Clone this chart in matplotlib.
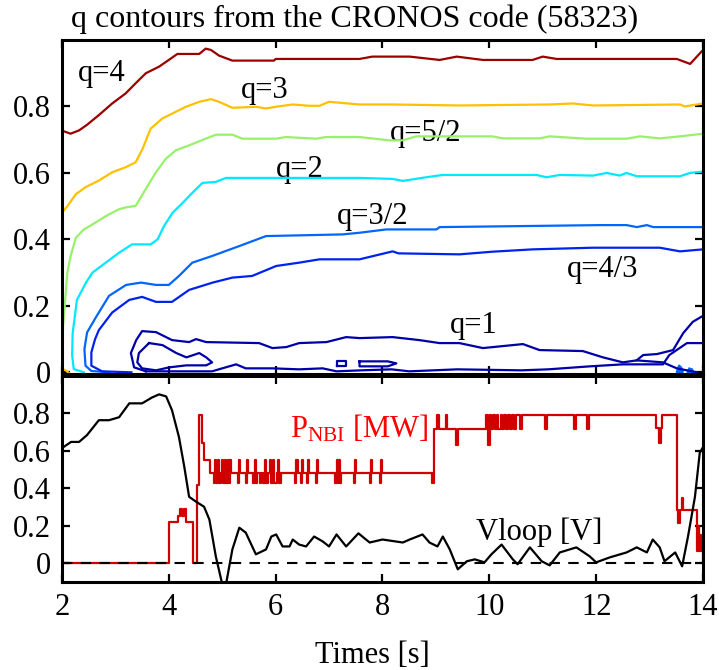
import matplotlib
matplotlib.use("Agg")
import matplotlib.pyplot as plt

plt.rcParams['font.family'] = ['Liberation Serif', 'DejaVu Serif']
plt.rcParams['mathtext.fontset'] = 'custom'
plt.rcParams['mathtext.rm'] = 'Liberation Serif'

# ---- q contours (time [s], rho) ----
q4_t = [1.99, 2.16, 2.32, 2.47, 2.69, 2.94, 3.19, 3.38, 3.57, 3.82, 4.0, 4.16, 4.57, 4.69, 4.79,
        4.94, 5.19, 5.97, 6.0, 7.57, 7.81, 8.51, 9.07, 9.39, 9.88, 10.81, 11.0, 11.26, 13.51, 13.76, 14.0]
q4_r = [0.728, 0.718, 0.728, 0.745, 0.774, 0.809, 0.839, 0.870, 0.900, 0.920, 0.940, 0.958, 0.958, 0.974, 0.970,
        0.953, 0.938, 0.938, 0.943, 0.943, 0.950, 0.950, 0.940, 0.950, 0.940, 0.940, 0.950, 0.943, 0.943, 0.928, 0.970]

q3_t = [1.99, 2.0, 2.1, 2.26, 2.44, 2.69, 2.94, 3.19, 3.38, 3.51, 3.66, 3.88, 4.07, 4.32, 4.57, 4.79,
        4.94, 5.19, 5.63, 5.82, 6.0, 6.32, 6.63, 6.82, 7.0, 7.57, 8.19, 9.44, 11.13, 11.56, 11.94, 13.57, 13.66, 14.0]
q3_r = [0.42, 0.48, 0.50, 0.536, 0.557, 0.577, 0.602, 0.617, 0.632, 0.673, 0.733, 0.764, 0.779, 0.799, 0.814, 0.822,
        0.814, 0.796, 0.799, 0.794, 0.799, 0.806, 0.802, 0.802, 0.814, 0.806, 0.806, 0.803, 0.806, 0.809, 0.803, 0.806, 0.800, 0.809]
q3_corner_t = [1.99, 2.08, 2.13]
q3_corner_r = [0.012, 0.005, -0.002]

q52_t = [2.0, 2.01, 2.06, 2.1, 2.16, 2.26, 2.41, 2.57, 2.82, 3.07, 3.19, 3.38, 3.57, 3.76, 3.94, 4.13, 4.38,
         4.69, 4.88, 5.19, 5.38, 6.0, 6.19, 6.76, 6.94, 7.57, 8.13, 8.38, 8.63, 10.06, 10.25, 10.94, 11.13,
         11.82, 12.57, 12.82, 13.19, 13.57, 14.0]
q52_r = [0.0, 0.117, 0.218, 0.299, 0.349, 0.405, 0.430, 0.445, 0.470, 0.491, 0.496, 0.501, 0.552, 0.602, 0.642, 0.668, 0.683,
         0.703, 0.715, 0.715, 0.703, 0.703, 0.708, 0.703, 0.708, 0.708, 0.698, 0.698, 0.710, 0.710, 0.704, 0.704, 0.710,
         0.703, 0.703, 0.710, 0.704, 0.710, 0.718]

q2_t = [2.41, 2.22, 2.19, 2.2, 2.28, 2.45, 2.57, 2.82, 3.07, 3.31, 3.66, 3.79, 3.91, 4.07, 4.26, 4.44, 4.63,
        4.88, 5.07, 7.57, 8.19, 8.38, 8.82, 9.13, 10.88, 11.07, 11.32, 11.94, 12.2, 12.44, 12.57, 12.76, 13.57, 13.76, 14.0]
q2_r = [0.0, 0.01, 0.052, 0.118, 0.218, 0.27, 0.30, 0.33, 0.36, 0.385, 0.385, 0.40, 0.44, 0.48, 0.51, 0.54, 0.57,
        0.573, 0.585, 0.585, 0.582, 0.576, 0.587, 0.594, 0.594, 0.587, 0.594, 0.592, 0.600, 0.592, 0.600, 0.590, 0.590, 0.600, 0.604]

q32_t = [2.9, 2.55, 2.44, 2.42, 2.47, 2.64, 2.88, 3.2, 3.48, 3.76, 4.0, 4.19, 4.44, 4.81, 5.32, 5.82, 7.25, 7.57,
         8.07, 9.01, 9.07, 12.07, 12.57, 12.76, 12.95, 13.07, 14.0]
q32_r = [0.0, 0.004, 0.02, 0.07, 0.12, 0.167, 0.23, 0.263, 0.27, 0.263, 0.263, 0.29, 0.33, 0.35, 0.38, 0.41, 0.415, 0.42,
         0.43, 0.43, 0.437, 0.443, 0.443, 0.437, 0.443, 0.437, 0.437]

q43_t = [3.3, 2.75, 2.55, 2.55, 2.62, 2.69, 2.94, 3.26, 3.5, 3.76, 4.06, 4.38, 4.82, 5.19, 5.56, 6.01, 6.44, 6.82,
         7.57, 8.19, 8.3, 9.44, 10.06, 10.81, 11.94, 13.19, 13.57, 14.0]
q43_r = [0.0, 0.003, 0.02, 0.06, 0.10, 0.127, 0.18, 0.218, 0.227, 0.212, 0.212, 0.248, 0.27, 0.285, 0.29, 0.32, 0.33, 0.34,
         0.34, 0.364, 0.358, 0.355, 0.363, 0.37, 0.375, 0.375, 0.364, 0.37]

# q=1 : several pieces
q1a_t = [3.57, 3.35, 3.29, 3.39, 3.5, 3.76, 4.06, 4.38, 4.51, 4.7, 5.69, 5.94, 6.2, 6.44, 6.95, 7.32, 7.57, 8.19,
         8.69, 9.07, 9.44, 9.88, 10.63, 10.94, 11.75, 12.13, 12.5, 12.76, 12.88, 13.14, 13.44, 13.63, 13.81, 14.0]
q1a_r = [0.003, 0.015, 0.058, 0.097, 0.124, 0.121, 0.097, 0.091, 0.10, 0.091, 0.088, 0.073, 0.076, 0.088, 0.091, 0.106, 0.103, 0.106,
         0.097, 0.088, 0.088, 0.073, 0.085, 0.067, 0.064, 0.045, 0.030, 0.036, 0.052, 0.055, 0.067, 0.118, 0.152, 0.170]
q1b_t = [3.57, 4.81, 5.0, 5.26, 5.44, 5.94, 6.44, 6.88, 7.14, 7.6, 8.17, 8.5, 9.4, 10.6, 11.1, 11.88, 12.5, 13.25, 13.37, 13.7, 14.0]
q1b_r = [0.003, 0.003, 0.012, 0.024, 0.012, 0.012, 0.009, 0.012, 0.003, 0.006, 0.009, 0.003, 0.009, 0.006, 0.009, 0.018, 0.024, 0.024, 0.052, 0.088, 0.088]
q1c_t = [12.76, 13.25, 13.51, 13.89]
q1c_r = [0.036, 0.030, 0.012, 0.0]
q1d_t = [3.63, 3.88, 4.14, 4.33, 4.57, 4.70, 4.81, 4.70, 4.33, 4.01, 3.76, 3.50, 3.41, 3.44, 3.63]
q1d_r = [0.088, 0.082, 0.058, 0.045, 0.058, 0.045, 0.030, 0.021, 0.021, 0.015, 0.006, 0.012, 0.030, 0.058, 0.088]
q1e_t = [7.14, 7.32, 7.32, 7.14, 7.14]
q1e_r = [0.018, 0.018, 0.033, 0.033, 0.018]
q1f_t = [7.57, 8.1, 8.26, 8.1, 7.57, 7.57]
q1f_r = [0.033, 0.033, 0.027, 0.018, 0.018, 0.033]
blob1_t = [13.5, 13.55, 13.6, 13.63]
blob1_r = [0.0, 0.022, 0.015, 0.0]
blob2_t = [13.7, 13.74, 13.8, 13.83]
blob2_r = [0.0, 0.013, 0.01, 0.0]

# ---- bottom panel ----
vloop_t = [2.0, 2.17, 2.32, 2.47, 2.69, 2.88, 3.07, 3.26, 3.5, 3.69, 3.82, 3.95, 4.06, 4.19, 4.29, 4.38, 4.51, 4.66,
           4.76, 4.88, 5.04, 5.19, 5.32, 5.44, 5.63, 5.82, 5.92, 6.01, 6.13, 6.26, 6.32, 6.44, 6.57, 6.72, 6.88, 7.0,
           7.14, 7.32, 7.55, 7.76, 8.0, 8.38, 8.51, 8.75, 8.88, 9.03, 9.13, 9.26, 9.41, 9.58, 9.73, 9.91, 10.04, 10.23,
           10.44, 10.53, 10.76, 10.98, 11.13, 11.32, 11.63, 11.88, 12.0, 12.26, 12.57, 12.76, 12.95, 13.06, 13.19,
           13.28, 13.48, 13.61, 13.72, 13.85, 13.94, 14.0]
vloop_v = [0.615, 0.648, 0.648, 0.685, 0.764, 0.764, 0.78, 0.854, 0.854, 0.886, 0.902, 0.891, 0.817, 0.674, 0.515, 0.355, 0.329, 0.302,
           0.233, 0.037, -0.16, 0.074, 0.19, 0.164, 0.048, 0.074, 0.143, 0.154, 0.09, 0.09, 0.127, 0.10, 0.09, 0.143, 0.117, 0.09,
           0.154, 0.09, 0.16, 0.111, 0.127, 0.111, 0.127, 0.154, 0.111, 0.09, 0.143, 0.074, -0.032, 0.011, 0.021, 0.005, 0.048, 0.10,
           0.021, -0.005, 0.085, 0.011, -0.011, 0.058, 0.085, 0.037, 0.005, 0.032, 0.058, 0.085, 0.058, 0.127, 0.085,
           0.011, 0.058, -0.016, 0.143, 0.355, 0.59, 0.62]

pnbi_t = [2.0, 4.0, 4.17, 4.21, 4.25, 4.28, 4.32, 4.46, 4.52, 4.56, 4.62, 4.65, 4.78,
          4.84, 4.87, 4.89, 4.92, 4.94, 4.97, 5.0, 5.02, 5.05, 5.07, 5.10, 5.12, 5.15, 5.17,
          5.30, 5.32, 5.34, 5.45, 5.47, 5.49,
          5.58, 5.61, 5.63, 5.66, 5.70, 5.73, 5.77, 5.80, 5.82, 5.86, 5.90, 5.92, 5.95, 5.97, 6.02, 6.05, 6.07, 6.10,
          6.37, 6.39, 6.41, 6.48, 6.50, 6.52, 6.58, 6.60, 6.62, 6.76, 6.78, 6.80,
          7.12, 7.14, 7.16, 7.18, 7.20, 7.23, 7.46, 7.48, 7.50, 7.77, 7.79, 7.81, 7.96, 7.98, 8.00,
          8.92, 8.96, 9.02, 9.05, 9.18, 9.21, 9.38, 9.41,
          9.93, 9.97, 10.01, 10.04, 10.07, 10.10, 10.14, 10.17, 10.21, 10.24, 10.28, 10.31, 10.35, 10.38,
          10.42, 10.46, 10.50, 10.58, 10.61, 11.05, 11.08, 11.58, 11.62, 11.82, 11.86,
          13.12, 13.17, 13.21, 13.24, 13.51, 13.54, 13.57, 13.60, 13.63,
          13.89, 13.91, 13.93, 13.95, 13.97, 14.0]
pnbi_p = [0.0, 0.22, 0.25, 0.29, 0.25, 0.29, 0.22, 0.0, 0.42, 0.79, 0.64, 0.55, 0.48,
          0.43, 0.55, 0.43, 0.55, 0.43, 0.48, 0.55, 0.43, 0.55, 0.43, 0.55, 0.43, 0.55, 0.48,
          0.43, 0.55, 0.48, 0.43, 0.55, 0.48,
          0.43, 0.55, 0.43, 0.48, 0.43, 0.48, 0.43, 0.55, 0.43, 0.48, 0.55, 0.43, 0.55, 0.43, 0.48, 0.55, 0.43, 0.48,
          0.43, 0.55, 0.48, 0.43, 0.55, 0.48, 0.43, 0.55, 0.48, 0.43, 0.55, 0.48,
          0.43, 0.55, 0.43, 0.55, 0.43, 0.48, 0.43, 0.55, 0.48, 0.43, 0.55, 0.48, 0.43, 0.55, 0.48,
          0.43, 0.716, 0.79, 0.716, 0.79, 0.716, 0.63, 0.716,
          0.79, 0.63, 0.79, 0.716, 0.79, 0.716, 0.79, 0.716, 0.79, 0.716, 0.79, 0.716, 0.79, 0.716,
          0.79, 0.716, 0.79, 0.716, 0.79, 0.716, 0.79, 0.716, 0.79, 0.716, 0.79,
          0.72, 0.64, 0.72, 0.79, 0.286, 0.217, 0.286, 0.35, 0.286,
          0.064, 0.20, 0.064, 0.15, 0.064, 0.0]

q_labels = ['q=4', 'q=3', 'q=5/2', 'q=2', 'q=3/2', 'q=4/3', 'q=1']
q_label_t = [2.3, 5.34, 8.13, 6.01, 7.14, 11.45, 9.26]
q_label_r = [0.876, 0.824, 0.697, 0.588, 0.445, 0.288, 0.118]

c4, c3, c52, c2, c32, c43, c1 = '#9B0000', '#FFC000', '#99F06A', '#00E8FF', '#0066FF', '#0022EE', '#0000A8'

fig = plt.figure(figsize=(7.19, 6.70), dpi=100)
ax1 = fig.add_axes([0.0862, 0.4418, 0.8915, 0.4985])
ax2 = fig.add_axes([0.0862, 0.1313, 0.8915, 0.3075])

lw = 1.6
ax1.plot(q4_t, q4_r, color=c4, lw=lw)
ax1.plot(q3_t, q3_r, color=c3, lw=lw)
ax1.plot(q3_corner_t, q3_corner_r, color=c3, lw=lw)
ax1.plot(q52_t, q52_r, color=c52, lw=lw)
ax1.plot(q2_t, q2_r, color=c2, lw=lw)
ax1.plot(q32_t, q32_r, color=c32, lw=lw)
ax1.plot(q43_t, q43_r, color=c43, lw=lw)
for tt, rr in [(q1a_t, q1a_r), (q1b_t, q1b_r), (q1c_t, q1c_r), (q1d_t, q1d_r), (q1e_t, q1e_r), (q1f_t, q1f_r)]:
    ax1.plot(tt, rr, color=c1, lw=lw)
ax1.fill(blob1_t, blob1_r, color=c32)
ax1.fill(blob2_t, blob2_r, color=c32)

for lab, tt, rr in zip(q_labels, q_label_t, q_label_r):
    ax1.text(tt, rr, lab, fontsize=22, ha='left', va='baseline', color='k', zorder=1)

ax1.set_xlim(2, 14)
ax1.set_ylim(-0.005, 1.0)
ax1.set_yticks([0, 0.2, 0.4, 0.6, 0.8])
ax1.set_yticklabels(['0', '0.2', '0.4', '0.6', '0.8'])
ax1.set_xticks([2, 4, 6, 8, 10, 12, 14])
ax1.set_xticklabels([])

ax2.plot(pnbi_t, pnbi_p, color='#D00000', lw=1.6, drawstyle='steps-post', zorder=2)
ax2.plot(vloop_t, vloop_v, color='k', lw=1.6, zorder=3)
ax2.axhline(0, color='k', ls='--', lw=1.5, dashes=(5, 4), zorder=4)
ax2.text(6.26, 0.674, r'$\mathrm{P_{NBI}}$ [MW]', color='#FF0000', fontsize=22, ha='left', va='baseline')
ax2.text(9.76, 0.127, 'Vloop [V]', color='k', fontsize=22, ha='left', va='baseline')

ax2.set_xlim(2, 14)
ax2.set_ylim(-0.1, 1.0)
ax2.set_yticks([0, 0.2, 0.4, 0.6, 0.8])
ax2.set_yticklabels(['0', '0.2', '0.4', '0.6', '0.8'])
ax2.set_xticks([2, 4, 6, 8, 10, 12, 14])

for ax in (ax1, ax2):
    for s in ax.spines.values():
        s.set_linewidth(2.2)
    ax.tick_params(direction='in', length=6, width=1.6, labelsize=22,
                   top=True, right=True, pad=8)

fig.text(0.493, 0.96, 'q contours from the CRONOS code (58323)', fontsize=23,
         ha='center', va='baseline')
fig.text(0.518, 0.0104, 'Times [s]', fontsize=22, ha='center', va='baseline')

fig.savefig('out.png', dpi=100)
